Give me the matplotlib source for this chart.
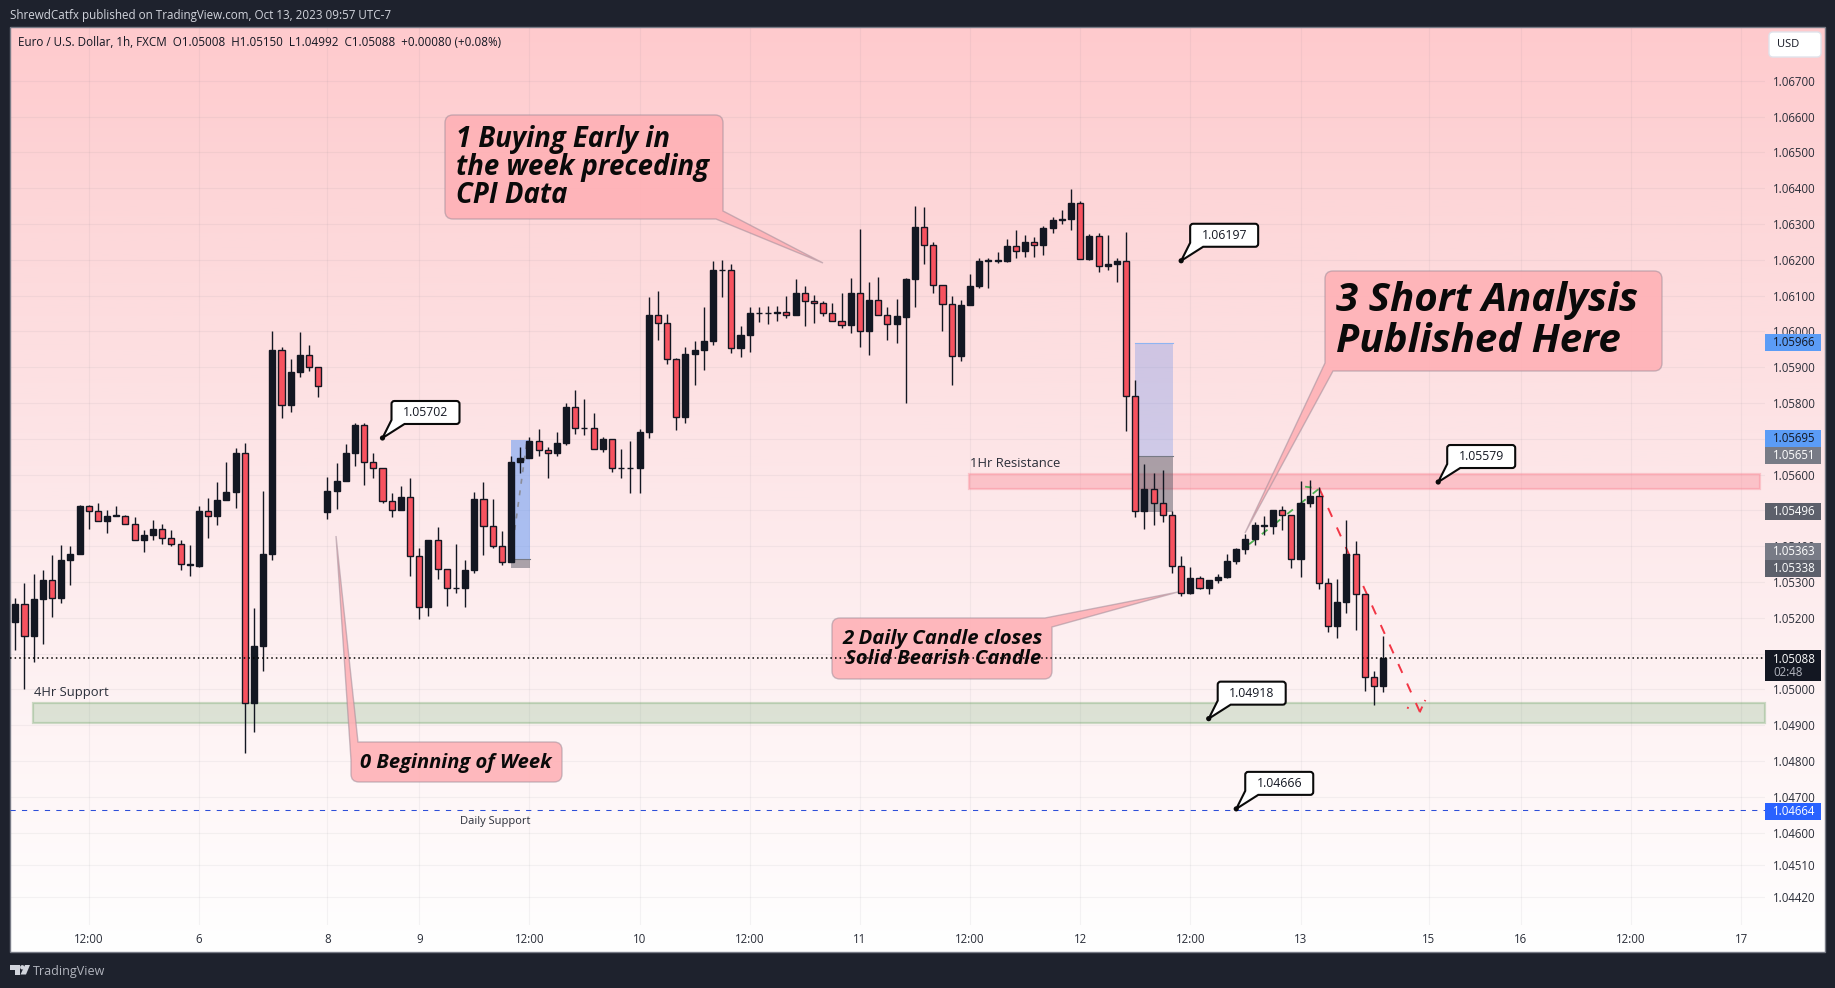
import numpy as np
import matplotlib
matplotlib.use("Agg")
import matplotlib.pyplot as plt
from matplotlib.patches import PathPatch, Rectangle, Circle, Polygon
from matplotlib.path import Path
from matplotlib.transforms import Affine2D

opens = [1.05187,1.05237,1.05148,1.05251,1.05304,1.05256,1.05360,1.05379,1.05511,1.05497,
1.05469,1.05485,1.05485,1.05463,1.05416,1.05432,1.05449,1.05424,1.05407,1.05348,
1.05345,1.05497,1.05483,1.05530,1.05550,1.05661,1.04963,1.05120,1.05377,1.05949,
1.05793,1.05885,1.05935,1.05899,1.05494,1.05555,1.05583,1.05661,1.05737,1.05634,
1.05617,1.05525,1.05502,1.05536,1.05371,1.05231,1.05416,1.05335,1.05282,1.05282,
1.05333,1.05531,1.05455,1.05399,1.05355,1.05634,1.05645,1.05693,1.05668,1.05659,
1.05687,1.05788,1.05729,1.05731,1.05671,1.05698,1.05617,1.05617,1.05617,1.05718,
1.06045,1.06022,1.05922,1.05760,1.05936,1.05947,1.05972,1.06170,1.06172,1.05953,
1.05989,1.06050,1.06050,1.06050,1.06055,1.06045,1.06106,1.06084,1.06078,1.06050,
1.06028,1.06017,1.06106,1.06000,1.06087,1.06045,1.06020,1.06041,1.06146,1.06291,
1.06241,1.06129,1.06076,1.05930,1.06073,1.06126,1.06196,1.06196,1.06196,1.06238,
1.06224,1.06249,1.06241,1.06288,1.06310,1.06313,1.06358,1.06201,1.06266,1.06182,
1.06187,1.06196,1.05819,1.05498,1.05559,1.05520,1.05486,1.05344,1.05268,1.05310,
1.05282,1.05304,1.05315,1.05357,1.05391,1.05421,1.05460,1.05455,1.05500,1.05486,
1.05363,1.05519,1.05539,1.05296,1.05178,1.05245,1.05377,1.05265,1.05033,1.05008]
highs = [1.05254,1.05298,1.05321,1.05332,1.05374,1.05402,1.05399,1.05516,1.05516,1.05519,
1.05500,1.05511,1.05488,1.05480,1.05446,1.05474,1.05463,1.05446,1.05418,1.05402,
1.05513,1.05533,1.05578,1.05636,1.05675,1.05687,1.05226,1.05555,1.06002,1.05955,
1.05924,1.05997,1.05963,1.05899,1.05594,1.05631,1.05684,1.05745,1.05743,1.05659,
1.05617,1.05547,1.05569,1.05589,1.05396,1.05418,1.05452,1.05337,1.05407,1.05361,
1.05550,1.05578,1.05531,1.05441,1.05651,1.05676,1.05704,1.05726,1.05676,1.05718,
1.05799,1.05835,1.05810,1.05771,1.05704,1.05698,1.05671,1.05693,1.05726,1.06095,
1.06112,1.06048,1.05925,1.05955,1.05972,1.06067,1.06196,1.06198,1.06187,1.06014,
1.06067,1.06067,1.06070,1.06070,1.06098,1.06145,1.06126,1.06101,1.06084,1.06078,
1.06106,1.06148,1.06285,1.06137,1.06151,1.06067,1.06090,1.06148,1.06350,1.06347,
1.06249,1.06129,1.06098,1.06087,1.06160,1.06204,1.06204,1.06221,1.06257,1.06282,
1.06268,1.06263,1.06294,1.06319,1.06338,1.06397,1.06363,1.06271,1.06274,1.06268,
1.06204,1.06277,1.05863,1.05629,1.05604,1.05612,1.05498,1.05372,1.05341,1.05316,
1.05305,1.05321,1.05377,1.05396,1.05435,1.05466,1.05483,1.05502,1.05511,1.05486,
1.05581,1.05586,1.05564,1.05310,1.05307,1.05474,1.05413,1.05265,1.05050,1.05150]
lows = [1.05111,1.05000,1.05077,1.05127,1.05202,1.05242,1.05291,1.05379,1.05448,1.05469,
1.05437,1.05484,1.05463,1.05416,1.05384,1.05418,1.05406,1.05401,1.05334,1.05317,
1.05342,1.05423,1.05459,1.05530,1.05507,1.04821,1.04881,1.05052,1.05361,1.05759,
1.05775,1.05873,1.05890,1.05817,1.05476,1.05504,1.05583,1.05624,1.05571,1.05591,
1.05519,1.05482,1.05502,1.05317,1.05195,1.05205,1.05309,1.05234,1.05270,1.05229,
1.05326,1.05374,1.05394,1.05348,1.05355,1.05605,1.05645,1.05653,1.05589,1.05653,
1.05683,1.05712,1.05709,1.05671,1.05664,1.05608,1.05589,1.05549,1.05547,1.05703,
1.05976,1.05910,1.05724,1.05745,1.05851,1.05892,1.05962,1.06097,1.05938,1.05929,
1.05942,1.06027,1.06019,1.06030,1.06038,1.06045,1.06016,1.06024,1.06042,1.06028,
1.06010,1.05994,1.05957,1.05935,1.06045,1.05977,1.05968,1.05799,1.06069,1.06187,
1.06106,1.06000,1.05849,1.05916,1.06073,1.06120,1.06122,1.06190,1.06193,1.06204,
1.06207,1.06207,1.06213,1.06274,1.06299,1.06282,1.06201,1.06199,1.06165,1.06171,
1.06137,1.05721,1.05481,1.05447,1.05458,1.05467,1.05324,1.05260,1.05266,1.05280,
1.05266,1.05298,1.05312,1.05349,1.05377,1.05402,1.05430,1.05435,1.05444,1.05338,
1.05315,1.05508,1.05279,1.05159,1.05142,1.05212,1.05167,1.04994,1.04955,1.04992]
closes = [1.05237,1.05148,1.05251,1.05304,1.05256,1.05360,1.05379,1.05511,1.05497,1.05469,
1.05485,1.05486,1.05463,1.05416,1.05432,1.05449,1.05424,1.05407,1.05349,1.05349,
1.05497,1.05483,1.05530,1.05550,1.05661,1.04963,1.05120,1.05377,1.05949,1.05793,
1.05885,1.05935,1.05899,1.05846,1.05555,1.05583,1.05661,1.05737,1.05634,1.05617,
1.05525,1.05502,1.05536,1.05371,1.05231,1.05416,1.05335,1.05282,1.05283,1.05333,
1.05531,1.05455,1.05399,1.05355,1.05634,1.05645,1.05693,1.05668,1.05659,1.05687,
1.05788,1.05729,1.05731,1.05671,1.05698,1.05617,1.05617,1.05617,1.05718,1.06045,
1.06022,1.05922,1.05760,1.05936,1.05947,1.05972,1.06170,1.06172,1.05953,1.05989,
1.06050,1.06052,1.06052,1.06055,1.06045,1.06106,1.06084,1.06078,1.06050,1.06028,
1.06017,1.06106,1.06000,1.06087,1.06045,1.06020,1.06042,1.06146,1.06291,1.06241,
1.06129,1.06076,1.05930,1.06073,1.06126,1.06196,1.06199,1.06199,1.06238,1.06224,
1.06249,1.06241,1.06288,1.06310,1.06313,1.06358,1.06201,1.06266,1.06182,1.06187,
1.06196,1.05819,1.05498,1.05559,1.05520,1.05486,1.05344,1.05268,1.05310,1.05282,
1.05305,1.05315,1.05357,1.05391,1.05421,1.05460,1.05455,1.05500,1.05486,1.05363,
1.05519,1.05539,1.05296,1.05178,1.05245,1.05377,1.05265,1.05033,1.05008,1.05088]

price_ticks = [1.067,1.066,1.065,1.064,1.063,1.062,1.061,1.060,1.059,1.058,1.057,1.056,
               1.055,1.054,1.053,1.052,1.051,1.050,1.049,1.048,1.047,1.046,1.0451,1.0442]
price_tick_labels = ["%.5f" % p for p in price_ticks]
time_tick_pos = [8,20,34,44,56,68,80,92,104,116,128,140,154,164,176,188]
time_tick_labels = ["12:00","6","8","9","12:00","10","12:00","11","12:00","12","12:00","13","15","16","12:00","17"]

last_price = 1.05088
daily_support = 1.04664
support_zone = (1.04906, 1.04962)
resist_zone = (1.05559, 1.05601)
box_a = dict(start=54.0, end=56.07, target=1.05695, entry=1.05363, stop=1.05338)
box_b = dict(start=122.0, end=126.1, target=1.05966, entry=1.05651, stop=1.05496)
gray_path_x, gray_path_y = [54.4, 55.7], [1.05445, 1.05687]
green_path_x, green_path_y = [134.4, 142.05, 140.5], [1.05405, 1.05561, 1.05566]
red_path_x, red_path_y = [142.05, 153.0, 151.6], [1.05561, 1.04937, 1.04949]
red_head_x, red_head_y = [153.0, 153.6], [1.04937, 1.04970]
tag_idx = [40, 127, 155, 130, 133]
tag_price = [1.05702, 1.06197, 1.05579, 1.04918, 1.04666]

W, H = 1835, 988
FONT = "Open Sans"
plt.rcParams["font.family"] = FONT
DARK = "#131722"
UP, DOWN = "#131722", "#F7525F"

fig = plt.figure(figsize=(W/100, H/100), dpi=100, facecolor="#1E222D")
px = Affine2D().scale(1, -1).translate(0, H)

# panel gradient
bg = fig.add_axes([10/W, (H-952)/H, 1815/W, 925/H], zorder=0)
rows = np.linspace(27, 952, 400)
stops = [27, 200, 500, 952]
r = np.interp(rows, stops, [255, 253, 253, 255]) / 255
g = np.interp(rows, stops, [202, 214, 232, 255]) / 255
b = np.interp(rows, stops, [205, 216, 234, 255]) / 255
grad = np.dstack([r[:, None], g[:, None], b[:, None]])
bg.imshow(grad, aspect="auto", extent=(0, 1, 0, 1), origin="upper")
bg.axis("off")

ax = fig.add_axes([10/W, (H-925)/H, 1755/W, 898/H], zorder=1)
ax.patch.set_alpha(0)
for s in ax.spines.values():
    s.set_visible(False)
ax.set_xlim((10-15.3)/9.18, (1765-15.3)/9.18)
ax.set_ylim(1.067-(925-80.7)/35800, 1.067+(80.7-27)/35800)
ax.set_axisbelow(True)
ax.yaxis.tick_right()
ax.set_yticks(price_ticks, price_tick_labels, fontsize=8.3, color="#2A2E39")
ax.set_xticks(time_tick_pos, time_tick_labels, fontsize=8.3, color="#2A2E39")
ax.tick_params(axis="both", length=0)
ax.tick_params(axis="y", pad=5.8)
ax.tick_params(axis="x", pad=5.5)
ax.grid(True, color="#787B86", alpha=0.08, lw=0.8)

def round_path(pts):
    n = len(pts)
    verts, codes = [], []
    for i, (x, y, r) in enumerate(pts):
        p = np.array([x, y], float)
        if r <= 0:
            verts.append(tuple(p)); codes.append(Path.LINETO)
            continue
        a = np.array(pts[i-1][:2], float); b = np.array(pts[(i+1) % n][:2], float)
        p1 = p + (a-p)/np.linalg.norm(a-p)*r
        p2 = p + (b-p)/np.linalg.norm(b-p)*r
        verts += [tuple(p1), tuple(p), tuple(p2)]
        codes += [Path.LINETO, Path.CURVE3, Path.CURVE3]
    codes[0] = Path.MOVETO
    verts.append(verts[0]); codes.append(Path.CLOSEPOLY)
    return Path(verts, codes)

def callout(pts, z=2.5):
    ax.add_patch(PathPatch(round_path(pts), transform=px, fc=(1.0, 0.69, 0.71, 0.88),
                           ec=(0.62, 0.55, 0.60, 0.55), lw=1.0, zorder=z, clip_on=False))

R = 8
callout([(445,115,R),(723,115,R),(723,211,0),(823,263,0),(716,219,0),(445,219,R)])
callout([(1325,271,R),(1662,271,R),(1662,371,R),(1333,371,0),(1245,533,0),(1325,363,0)])
callout([(832,618,R),(1045,618,0),(1178,592,0),(1052,627,0),(1052,679,R),(832,679,R)])
callout([(351,760,0),(336,536,0),(358,742,0),(562,742,R),(562,782,R),(351,782,R)])

def ctext(x, y, s, size, ha="left"):
    ax.text(x, y, s, transform=px, fontsize=size, fontweight="bold", fontstyle="italic",
            color="#0A0A0A", ha=ha, va="baseline", zorder=2.6)

for y, s in zip([147,175,203], ["1 Buying Early in","the week preceding","CPI Data"]):
    ctext(456, y, s, 19.8)
for y, s in zip([311,352], ["3 Short Analysis","Published Here"]):
    ctext(1336, y, s, 29)
for y, s in zip([644,664], ["2 Daily Candle closes","Solid Bearish Candle"]):
    ctext(943, y, s, 14.7, ha="center")
ctext(456, 768, "0 Beginning of Week", 14.5, ha="center")

# zones
ax.add_patch(Rectangle((1.93, support_zone[0]), 188.7, support_zone[1]-support_zone[0],
             fc=(0.45,0.68,0.45,0.24), ec=(0.45,0.65,0.42,0.35), lw=1.6, zorder=2, clip_on=False))
ax.add_patch(Rectangle((103.9, resist_zone[0]), 86.15, resist_zone[1]-resist_zone[0],
             fc=(0.98,0.55,0.60,0.40), ec=(0.98,0.50,0.56,0.35), lw=1.6, zorder=2))
ax.text(34, 692, "4Hr Support", transform=px, fontsize=9.4, color="#2A2E39", va="center", zorder=2.6)
ax.text(970, 463, "1Hr Resistance", transform=px, fontsize=9.4, color="#2A2E39", va="center", zorder=2.6)
ax.text(495, 821, "Daily Support", transform=px, fontsize=8, color="#2A2E39", ha="center", va="center", zorder=2.6)

# position boxes
ax.add_patch(Rectangle((box_a["start"], box_a["entry"]), box_a["end"]-box_a["start"], box_a["target"]-box_a["entry"],
             fc=(0.35,0.58,0.96,0.50), ec="none", zorder=2.2))
ax.add_patch(Rectangle((box_a["start"], box_a["stop"]), box_a["end"]-box_a["start"], box_a["entry"]-box_a["stop"],
             fc=(0.35,0.35,0.40,0.50), ec="none", zorder=2.2))
ax.add_patch(Rectangle((box_b["start"], box_b["entry"]), box_b["end"]-box_b["start"], box_b["target"]-box_b["entry"],
             fc=(0.35,0.52,0.92,0.28), ec="none", zorder=2.2))
ax.add_patch(Rectangle((box_b["start"], box_b["stop"]), box_b["end"]-box_b["start"], box_b["entry"]-box_b["stop"],
             fc=(0.35,0.35,0.40,0.50), ec="none", zorder=2.2))
ax.plot([box_b["start"], box_b["end"]], [box_b["target"]]*2, color="#8FB4F2", lw=0.8, zorder=2.3)
ax.plot([box_b["start"], box_b["end"]], [box_b["entry"]]*2, color="#777A85", lw=0.8, zorder=2.3)
ax.plot([box_a["start"], box_a["end"]], [box_a["entry"]]*2, color="#777A85", lw=0.8, zorder=2.3)

# dashed paths
ax.plot(gray_path_x, gray_path_y, color="#8A8D99", lw=1.2, dashes=(3, 4), zorder=2.8)
ax.plot(green_path_x, green_path_y, color="#4CAF50", lw=1.3, dashes=(4, 5), zorder=2.8)
ax.plot(red_path_x, red_path_y, color="#F23645", lw=1.4, dashes=(5, 6), zorder=2.8)
ax.plot(red_head_x, red_head_y, color="#F23645", lw=1.4, dashes=(3, 3), zorder=2.8)

# candles
idx = np.arange(len(opens))
o, h, l, c = map(np.array, (opens, highs, lows, closes))
ax.vlines(idx, l, h, color=UP, lw=1.0, zorder=3)
bottoms = np.minimum(o, c)
heights = np.abs(c-o)
cols = [UP if cc >= oo else DOWN for oo, cc in zip(o, c)]
ax.bar(idx, heights, bottom=bottoms, width=0.66, color=cols, edgecolor=UP, linewidth=1.0, zorder=3.2)

# horizontal levels
ax.axhline(last_price, color="#000000", lw=1.1, dashes=(1, 2), zorder=4)
ax.axhline(daily_support, color="#2D4FD8", lw=0.75, dashes=(5, 6), zorder=2.4)

# white tags
def to_px(x, y):
    dx, dy = ax.transData.transform((x, y))
    return dx, H-dy

for i, p in zip(tag_idx, tag_price):
    tx, ty = to_px(i, p)
    pts = [(tx+9,ty-37,3),(tx+77,ty-37,3),(tx+77,ty-14,3),(tx+22,ty-14,0),(tx,ty,0),(tx+9,ty-18,0)]
    ax.add_patch(PathPatch(round_path(pts), transform=px, fc="white", ec="#0A0A0A", lw=1.5, zorder=5))
    ax.add_patch(Circle((tx, ty), 2.6, transform=px, fc="#0A0A0A", ec="none", zorder=5.1))
    ax.text(tx+43, ty-25.5, "%.5f" % p, transform=px, fontsize=8.8, color=DARK, ha="center", va="center",
            fontweight="medium", zorder=5.2)

# price-axis labels
flags = [(342.7,"1.05966","#5B9CF6",DARK),(438.5,"1.05695","#5B9CF6",DARK),
         (455.5,"1.05651","#787B86","white"),(511.7,"1.05496","#5D606B","white"),
         (551.7,"1.05363","#787B86","white"),(568.7,"1.05338","#5D606B","white"),
         (811.7,"1.04664","#2962FF","white")]
for yc, s, fc, tc in flags:
    ax.add_patch(Rectangle((1765, yc-8.5), 56, 17, transform=px, fc=fc, ec="none", zorder=6, clip_on=False))
    ax.text(1773, yc, s, transform=px, fontsize=8.3, color=tc, va="center", zorder=6.1)
ax.add_patch(Rectangle((1765, 650), 56, 31, transform=px, fc=DARK, ec="none", zorder=6, clip_on=False))
ax.text(1773, 659, "1.05088", transform=px, fontsize=8.3, color="white", va="center", zorder=6.1)
ax.text(1773, 672.7, "02:48", transform=px, fontsize=8.3, color="#B2B5BE", va="center", zorder=6.1)

# USD button
ax.add_patch(PathPatch(round_path([(1769,32,4),(1821,32,4),(1821,57,4),(1769,57,4)]), transform=px,
             fc="white", ec="#E0E3EB", lw=1.0, zorder=6, clip_on=False))
ax.text(1788, 44.5, "USD", transform=px, fontsize=8, color=DARK, ha="center", va="center", zorder=6.1)

# header/footer text and frame
fig.text(10/W, 1-15/H, "ShrewdCatfx published on TradingView.com, Oct 13, 2023 09:57 UTC-7",
         fontsize=8.35, color="#D1D4DC", va="center")
ax.text(18, 42, "Euro / U.S. Dollar, 1h, FXCM  O1.05008  H1.05150  L1.04992  C1.05088  +0.00080 (+0.08%)",
        transform=px, fontsize=8.4, color=DARK, va="center", zorder=6)
fig.add_artist(Rectangle((10/W, (H-952)/H), 1815/W, 925/H, transform=fig.transFigure, fc="none", ec="#787B86", lw=1.0))
fig.text(33/W, 1-971/H, "TradingView", fontsize=9, color="#B2B5BE", va="center")
LOGO = "#D1D4DC"
for pts in ([(10,965),(20,965),(20,974.5),(15,974.5),(15,969.5),(10,969.5)],
            [(25,965),(30,965),(26,974.5),(20.5,974.5)]):
    fig.add_artist(Polygon(pts, closed=True, transform=px, fc=LOGO, ec="none"))
fig.add_artist(Circle((22.3,967.3), 2.2, transform=px, fc=LOGO, ec="none"))

fig.savefig("out.png", dpi=100, facecolor=fig.get_facecolor())
